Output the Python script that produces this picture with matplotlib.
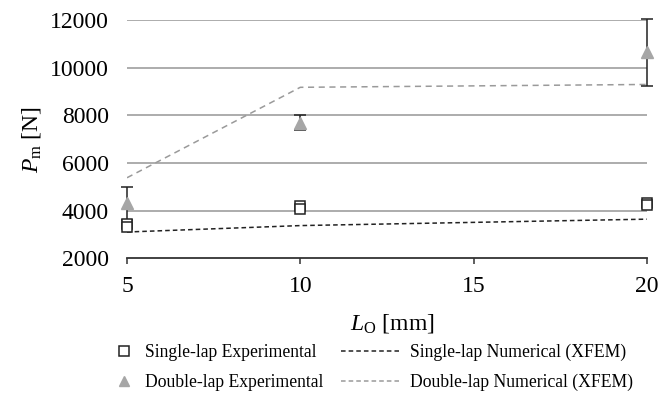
import matplotlib
matplotlib.use("Agg")
import matplotlib.pyplot as plt
from matplotlib.lines import Line2D

plt.rcParams["font.family"] = "Liberation Serif"
plt.rcParams["mathtext.fontset"] = "custom"
plt.rcParams["mathtext.rm"] = "Liberation Serif"
plt.rcParams["mathtext.it"] = "Liberation Serif:italic"

# overlap length [mm]
lo = [5, 10, 20]

# single-lap experimental, two specimens per length
single_exp_a = [3450, 4180, 4320]
single_exp_b = [3330, 4080, 4250]

# double-lap experimental mean and scatter
double_exp = [4300, 7700, 10650]
double_err = [700, 330, 1400]

# numerical (XFEM)
single_num = [3100, 3370, 3640]
double_num = [5380, 9180, 9300]

fig = plt.figure(figsize=(6.58, 3.96), dpi=100)
ax = fig.add_axes([0.193, 0.348, 0.790, 0.601])

for y in range(4000, 12001, 2000):
    ax.axhline(y, color="#a6a6a6", lw=1.3, zorder=0)

ax.plot(lo, single_num, ls=(0, (3, 2)), color="#222222", lw=1.1)
ax.plot(lo, double_num, ls=(0, (4, 3)), color="#9a9a9a", lw=1.1)

ax.errorbar(lo, double_exp, yerr=double_err, fmt="none", ecolor="#222222",
            elinewidth=1.1, capsize=4, capthick=1.1, clip_on=False, zorder=3)
ax.plot(lo, double_exp, ls="none", marker="^", ms=8, color="#a6a6a6",
        clip_on=False, zorder=4)

for vals in (single_exp_a, single_exp_b):
    ax.plot(lo, vals, ls="none", marker="s", ms=6.5, mfc="white", mec="#222222",
            mew=1.1, clip_on=False, zorder=5)

ax.set_xlim(5, 20)
ax.set_ylim(2000, 12000)
ax.set_xticks([5, 10, 15, 20])
ax.set_yticks(range(2000, 12001, 2000))
ax.tick_params(axis="y", length=0, labelsize=17, pad=13)
ax.tick_params(axis="x", length=4, width=1.1, color="#333333", direction="out",
               labelsize=17, pad=9)
for s in ["top", "right", "left"]:
    ax.spines[s].set_visible(False)
ax.spines["bottom"].set_color("#333333")
ax.spines["bottom"].set_linewidth(1.3)

ax.set_xlabel(r"$L_{\rm O}$ [mm]", fontsize=17)
ax.set_ylabel(r"$P_{\rm m}$ [N]", fontsize=17)
ax.xaxis.set_label_coords(0.51, -0.225)
ax.yaxis.set_label_coords(-0.162, 0.5)

h_exp = [
    Line2D([], [], ls="none", marker="s", ms=7, mfc="white", mec="#222222", mew=1.1),
    Line2D([], [], ls="none", marker="^", ms=7, color="#a6a6a6"),
]
h_num = [
    Line2D([], [], ls=(0, (3, 2)), color="#222222", lw=1.1),
    Line2D([], [], ls=(0, (3, 2)), color="#9a9a9a", lw=1.1),
]
leg_kw = dict(loc="center left", frameon=False, fontsize=12.7, borderaxespad=0,
              borderpad=0, handletextpad=0.6, labelspacing=0.75)
fig.legend(h_exp, ["Single-lap Experimental", "Double-lap Experimental"],
           bbox_to_anchor=(0.172, 0.072), handlelength=1.2, **leg_kw)
fig.legend(h_num, ["Single-lap Numerical (XFEM)", "Double-lap Numerical (XFEM)"],
           bbox_to_anchor=(0.518, 0.072), handlelength=3.3, **leg_kw)

fig.savefig("out.png", dpi=100)
